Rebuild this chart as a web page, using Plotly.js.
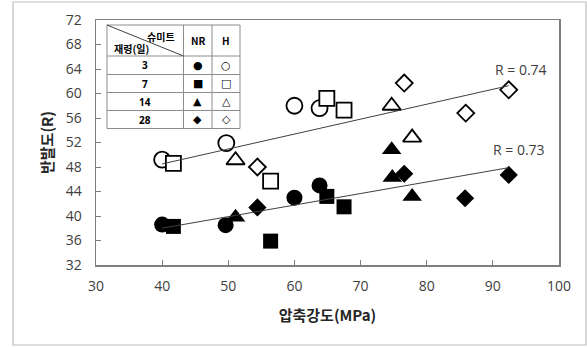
<!DOCTYPE html>
<html><head><meta charset="utf-8">
<script src="https://cdn.plot.ly/plotly-3.0.1.min.js"></script>
<style>html,body{margin:0;padding:0;background:#fff}</style>
</head><body>
<div id="chart" style="width:587px;height:347px"></div>
<script>
// ---- data ----
const nr3_x = [40.0, 49.6, 60.0, 63.8];   const nr3_y = [38.6, 38.5, 43.0, 45.0];
const nr7_x = [41.7, 56.4, 64.9, 67.5];   const nr7_y = [38.3, 35.9, 43.2, 41.5];
const nr14_x = [51.1, 74.7, 74.8, 77.8];  const nr14_y = [39.8, 50.8, 46.3, 43.2];
const nr28_x = [54.4, 76.6, 85.8, 92.4];  const nr28_y = [41.4, 46.9, 42.9, 46.7];
const h3_x = [40.0, 49.7, 60.0, 63.8];    const h3_y = [49.2, 51.9, 58.0, 57.6];
const h7_x = [41.7, 56.4, 64.9, 67.5];    const h7_y = [48.6, 45.7, 59.2, 57.3];
const h14_x = [51.1, 74.7, 77.8];         const h14_y = [49.1, 58.0, 52.8];
const h28_x = [54.4, 76.6, 85.9, 92.4];   const h28_y = [48.0, 61.7, 56.8, 60.6];
const ages = ['3', '7', '14', '28'];
const rLabels = ['R = 0.74', 'R = 0.73'];
const xTicks = [30, 40, 50, 60, 70, 80, 90, 100];
const yTicks = [32, 36, 40, 44, 48, 52, 56, 60, 64, 68, 72];

function fit(xs, ys) {
  const n = xs.length;
  const mx = xs.reduce((a, b) => a + b, 0) / n, my = ys.reduce((a, b) => a + b, 0) / n;
  let sxy = 0, sxx = 0;
  for (let i = 0; i < n; i++) { sxy += (xs[i] - mx) * (ys[i] - my); sxx += (xs[i] - mx) ** 2; }
  const b = sxy / sxx, a = my - b * mx;
  const x0 = Math.min(...xs), x1 = Math.max(...xs);
  return { x: [x0, x1], y: [a + b * x0, a + b * x1] };
}
const hx = [].concat(h3_x, h7_x, h14_x, h28_x), hy = [].concat(h3_y, h7_y, h14_y, h28_y);
const nx = [].concat(nr3_x, nr7_x, nr14_x, nr28_x), ny = [].concat(nr3_y, nr7_y, nr14_y, nr28_y);
const fh = fit(hx, hy), fn = fit(nx, ny);

function filled(x, y, sym, size) {
  return { x, y, type: 'scatter', mode: 'markers', showlegend: false, hoverinfo: 'skip',
    marker: { symbol: sym, size, color: '#000', line: { width: 0 } } };
}
function open(x, y, sym, size) {
  return { x, y, type: 'scatter', mode: 'markers', showlegend: false, hoverinfo: 'skip',
    marker: { symbol: sym, size, color: '#fff', line: { width: 1.8, color: '#000' } } };
}
const lineStyle = { color: '#404040', width: 1 };
const traces = [
  open(h3_x, h3_y, 'circle', 16), open(h7_x, h7_y, 'square', 15),
  open(h14_x, h14_y, 'triangle-up', 16), open(h28_x, h28_y, 'diamond', 13),
  filled(nr3_x, nr3_y, 'circle', 16), filled(nr7_x, nr7_y, 'square', 15),
  filled(nr14_x, nr14_y, 'triangle-up', 17), filled(nr28_x, nr28_y, 'diamond', 14),
  { x: fh.x, y: fh.y, type: 'scatter', mode: 'lines', line: lineStyle, showlegend: false, hoverinfo: 'skip' },
  { x: fn.x, y: fn.y, type: 'scatter', mode: 'lines', line: lineStyle, showlegend: false, hoverinfo: 'skip' }
];

// plot area in pixels
const L = 96, R = 559, T = 20, B = 265;
const W = R - L, H = B - T;
const px = v => (v - L) / W, py = v => (B - v) / H;

const shapes = [];
const annotations = [];
// outer border
shapes.push({ type: 'rect', xref: 'paper', yref: 'paper', x0: px(13), x1: px(586), y0: py(345), y1: py(2),
  line: { color: '#bdbdbd', width: 1.2 }, layer: 'below' });
// table
const cx = [107, 183.5, 212, 240];
const ry = [25, 56, 74.5, 92.5, 110.5, 128.5];
shapes.push({ type: 'rect', xref: 'paper', yref: 'paper', x0: px(cx[0]), x1: px(cx[3]), y0: py(ry[5]), y1: py(ry[0]),
  fillcolor: '#fff', line: { color: '#8c8c8c', width: 1 } });
for (let i = 1; i < 3; i++) shapes.push({ type: 'line', xref: 'paper', yref: 'paper', x0: px(cx[i]), x1: px(cx[i]), y0: py(ry[5]), y1: py(ry[0]), line: { color: '#8c8c8c', width: 1 } });
for (let j = 1; j < 5; j++) shapes.push({ type: 'line', xref: 'paper', yref: 'paper', x0: px(cx[0]), x1: px(cx[3]), y0: py(ry[j]), y1: py(ry[j]), line: { color: '#8c8c8c', width: 1 } });
shapes.push({ type: 'line', xref: 'paper', yref: 'paper', x0: px(cx[0]), x1: px(cx[1]), y0: py(ry[0]), y1: py(ry[1]), line: { color: '#404040', width: 1 } });

const tf = { family: 'Noto Sans CJK KR, Noto Sans, sans-serif', size: 10, color: '#000', weight: 700 };
function txt(text, x, y, font, xanchor) {
  annotations.push({ text, xref: 'paper', yref: 'paper', x: px(x), y: py(y), showarrow: false,
    xanchor: xanchor || 'center', yanchor: 'middle', font: font || tf });
}
txt('슈미트', 161, 36);
txt('재령(일)', 131, 48);
txt('NR', (cx[1] + cx[2]) / 2, (ry[0] + ry[1]) / 2);
txt('H', (cx[2] + cx[3]) / 2, (ry[0] + ry[1]) / 2);
const fullSym = ['●', '■', '▲', '◆'], openSym = ['○', '□', '△', '◇'];
const sf = { family: 'DejaVu Sans', size: 11, color: '#000' };
for (let j = 0; j < 4; j++) {
  const yc = (ry[j + 1] + ry[j + 2]) / 2;
  txt(ages[j], (cx[0] + cx[1]) / 2, yc, { family: 'Noto Sans, sans-serif', size: 10, color: '#000', weight: 700 });
  txt(fullSym[j], (cx[1] + cx[2]) / 2, yc, sf);
  txt(openSym[j], (cx[2] + cx[3]) / 2, yc, sf);
}
const rf = { family: 'Open Sans, sans-serif', size: 14, color: '#404040' };
annotations.push({ text: rLabels[0], x: 94.2, y: 63.9, xref: 'x', yref: 'y', showarrow: false, font: rf });
annotations.push({ text: rLabels[1], x: 93.9, y: 50.8, xref: 'x', yref: 'y', showarrow: false, font: rf });

const tickFont = { family: 'Open Sans, sans-serif', size: 14, color: '#404040' };
const axisCommon = { showgrid: false, zeroline: false, showline: true, linecolor: '#7f7f7f', linewidth: 1.5,
  mirror: true, ticks: 'inside', ticklen: 5, tickcolor: '#7f7f7f', tickwidth: 1, tickfont: tickFont };

const layout = {
  width: 587, height: 347,
  margin: { l: L, r: 587 - R, t: T, b: 347 - B },
  paper_bgcolor: '#fff', plot_bgcolor: '#fff',
  showlegend: false,
  xaxis: Object.assign({}, axisCommon, { range: [30, 100], tickvals: xTicks, ticktext: xTicks.map(String),
    ticklabelstandoff: 8,
    title: { text: '압축강도(MPa)', standoff: 16, font: { family: 'Noto Sans CJK KR, sans-serif', size: 15, color: '#262626', weight: 700 } } }),
  yaxis: Object.assign({}, axisCommon, { range: [32, 72], tickvals: yTicks, ticktext: yTicks.map(String),
    ticklabelstandoff: 10,
    title: { text: '반발도(R)', standoff: 8, font: { family: 'Noto Sans CJK KR, sans-serif', size: 15, color: '#262626', weight: 700 } } }),
  shapes, annotations
};
Plotly.newPlot('chart', traces, layout, { staticPlot: true, displayModeBar: false });
</script>
</body></html>
